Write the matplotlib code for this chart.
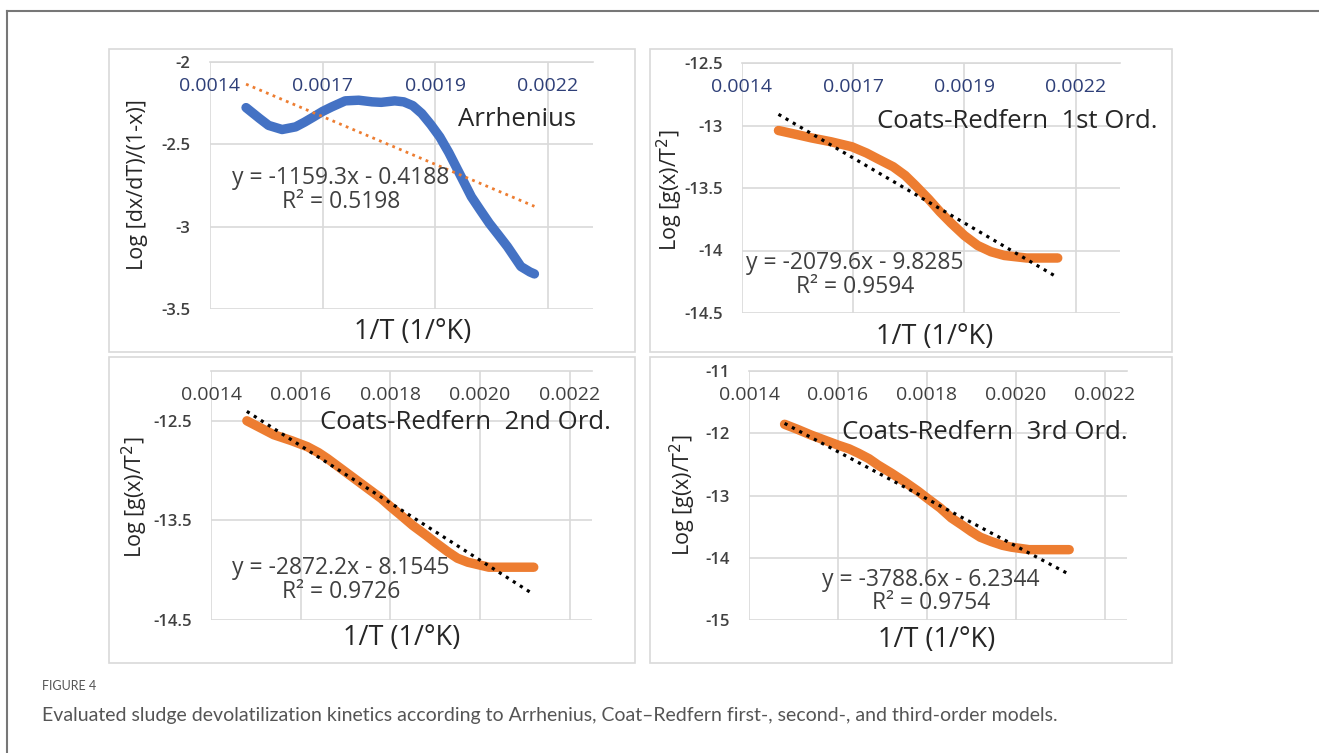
import numpy as np
import matplotlib.pyplot as plt
from matplotlib.patches import Rectangle
from matplotlib.lines import Line2D

plt.rcParams['font.family'] = ['Open Sans', 'DejaVu Sans']

x_arr = [0.00148, 0.00151, 0.00153, 0.00156, 0.00159, 0.00161, 0.00163, 0.00165, 0.00167,
         0.00170, 0.00173, 0.00176, 0.00178, 0.00181, 0.00183, 0.00185, 0.00187, 0.00189,
         0.00191, 0.00193, 0.00195, 0.00198, 0.00200, 0.00202, 0.00204, 0.00206, 0.00209,
         0.00211, 0.00212]
y_arr = [-2.277, -2.343, -2.385, -2.410, -2.394, -2.365, -2.333, -2.300, -2.273,
         -2.236, -2.232, -2.242, -2.245, -2.236, -2.242, -2.265, -2.313, -2.380,
         -2.455, -2.550, -2.657, -2.818, -2.900, -2.980, -3.050, -3.121, -3.242,
         -3.275, -3.287]

x_cr1 = [0.001482, 0.00152, 0.001557, 0.0016, 0.001647, 0.00168, 0.001707, 0.00174, 0.001767,
         0.00179, 0.00182, 0.001845, 0.00187, 0.0019, 0.00193, 0.00196, 0.00199, 0.00204,
         0.00211]
y_cr1 = [-13.04, -13.07, -13.10, -13.13, -13.17, -13.22, -13.27, -13.33, -13.40,
         -13.48, -13.59, -13.69, -13.78, -13.88, -13.96, -14.01, -14.04, -14.06,
         -14.06]

x_cr2 = [0.00148, 0.00151, 0.00154, 0.00158, 0.001615, 0.00164, 0.00166, 0.00169, 0.00172,
         0.00175, 0.00178, 0.0018, 0.001824, 0.00185, 0.00188, 0.0019, 0.00193, 0.00195,
         0.001973, 0.00202, 0.00212]
y_cr2 = [-12.50, -12.57, -12.64, -12.70, -12.76, -12.82, -12.88, -12.98, -13.08,
         -13.18, -13.28, -13.36, -13.45, -13.55, -13.65, -13.72, -13.82, -13.88,
         -13.92, -13.97, -13.97]

x_cr3 = [0.00148, 0.00151, 0.00154, 0.00157, 0.00160, 0.001625, 0.001646, 0.00167, 0.00169,
         0.00172, 0.00175, 0.00178, 0.00180, 0.00183, 0.001855, 0.00188, 0.00190, 0.00192,
         0.001945, 0.00197, 0.00199, 0.00203, 0.00212]
y_cr3 = [-11.856, -11.94, -12.03, -12.11, -12.19, -12.25, -12.32, -12.41, -12.51,
         -12.64, -12.78, -12.93, -13.04, -13.20, -13.36, -13.48, -13.58, -13.67,
         -13.74, -13.80, -13.83, -13.87, -13.87]

# trendline coefficients (slope, intercept, R2)
fits = [(-1159.3, -0.4188, 0.5198), (-2079.6, -9.8285, 0.9594),
        (-2872.2, -8.1545, 0.9726), (-3788.6, -6.2344, 0.9754)]

titles = ["Arrhenius", "Coats-Redfern  1st Ord.", "Coats-Redfern  2nd Ord.", "Coats-Redfern  3rd Ord."]
ylabels = ["Log [dx/dT)/(1-x)]", "Log [g(x)/T$^2$]", "Log [g(x)/T$^2$]", "Log [g(x)/T$^2$]"]

xt_top = [0.0014, 0.00165, 0.0019, 0.00215]
xt_top_lab = ["0.0014", "0.0017", "0.0019", "0.0022"]
xt_bot = [0.0014, 0.0016, 0.0018, 0.0020, 0.0022]
xt_bot_lab = ["0.0014", "0.0016", "0.0018", "0.0020", "0.0022"]

yticks = [[-2, -2.5, -3, -3.5], [-12.5, -13, -13.5, -14, -14.5],
          [-12.5, -13.5, -14.5], [-11, -12, -13, -14, -15]]
ylims = [(-3.5, -2), (-14.5, -12.5), (-14.5, -12.0), (-15, -11)]

W, H = 1319, 753
fig = plt.figure(figsize=(W / 100, H / 100), dpi=100)


def fx(px):
    return px / W


def fy(py):
    return 1 - py / H


# outer frame (top and left edges only)
fig.add_artist(Line2D([fx(7), 1], [fy(11), fy(11)], color='#777777', lw=1.5))
fig.add_artist(Line2D([fx(7), fx(7)], [fy(11), 0], color='#777777', lw=1.5))

# panel boxes
boxes = [(109, 49, 635, 352), (650, 49, 1172, 352), (109, 357, 635, 663), (650, 357, 1172, 663)]
for l, t, r, b in boxes:
    fig.add_artist(Rectangle((fx(l), fy(b)), fx(r) - fx(l), fy(t) - fy(b),
                             fill=False, edgecolor='#d9d9d9', lw=1.2))

plots = [(210, 62, 593, 309), (742, 63, 1120, 313), (211, 371, 592, 620), (749, 371, 1127, 620)]
xs = [x_arr, x_cr1, x_cr2, x_cr3]
ys = [y_arr, y_cr1, y_cr2, y_cr3]
colors = ['#4472C4', '#ED7D31', '#ED7D31', '#ED7D31']
trend_col = ['#ED7D31', 'black', 'black', 'black']

# text positions in pixels: title (left x, y), equation centre, ylabel x, xlabel centre
title_pos = [(458, 119), (877, 122), (320, 423), (842, 432)]
eq_pos = [(341, 178, 202), (855, 263, 287), (341, 568, 592), (931, 580, 603)]
ylab_pos = [(137, 185), (670, 190), (135, 497), (683, 495)]
xlab_pos = [(413, 332), (935, 337), (402, 638), (937, 640)]

for i in range(4):
    l, t, r, b = plots[i]
    ax = fig.add_axes([fx(l), fy(b), fx(r) - fx(l), fy(t) - fy(b)])
    x = np.array(xs[i])
    ax.plot(x, ys[i], color=colors[i], lw=6.8, solid_capstyle='round',
            solid_joinstyle='round', zorder=3)
    m, c, r2 = fits[i]
    xl = np.array([x[0], x[-1]])
    ax.plot(xl, m * xl + c, color=trend_col[i], lw=2 if i == 0 else 2.3,
            linestyle=(0, (1, 1.6)), zorder=4)

    ax.set_xlim(0.0014, 0.00225)
    ax.set_ylim(*ylims[i])
    if i < 2:
        ax.set_xticks(xt_top, xt_top_lab)
        xcol = '#2E3F78'
    else:
        ax.set_xticks(xt_bot, xt_bot_lab)
        xcol = '#404040'
    ax.set_yticks(yticks[i], [f"{v:g}" for v in yticks[i]])
    ax.tick_params(axis='x', bottom=False, labelbottom=False, top=False, labeltop=True,
                   length=0, pad=-24, labelsize=14, labelcolor=xcol)
    ax.tick_params(axis='y', length=0, pad=14, labelsize=12, labelcolor='#404040')
    for lab in ax.get_yticklabels():
        lab.set_fontweight('semibold')
    ax.grid(True, color='#d9d9d9', lw=1.2)
    ax.set_axisbelow(True)
    for s in ['left', 'right', 'bottom']:
        ax.spines[s].set_visible(False)
    ax.spines['top'].set_color('#d9d9d9')
    ax.spines['top'].set_linewidth(1.2)

    tx, ty = title_pos[i]
    fig.text(fx(tx), fy(ty), titles[i], fontsize=18.5, color='#262626', va='center', ha='left')
    ex, ey1, ey2 = eq_pos[i]
    fig.text(fx(ex), fy(ey1), f"y = {m}x - {abs(c)}", fontsize=16.5, color='#404040',
             ha='center', va='center')
    fig.text(fx(ex), fy(ey2), f"R² = {r2}", fontsize=16.5, color='#404040',
             ha='center', va='center')
    lx, ly = ylab_pos[i]
    fig.text(fx(lx), fy(ly), ylabels[i], fontsize=15.5, color='#262626', rotation=90,
             ha='center', va='center')
    bx, by = xlab_pos[i]
    fig.text(fx(bx), fy(by), "1/T (1/°K)", fontsize=19.5, color='#262626',
             ha='center', va='center')

fig.text(fx(42), fy(686), "FIGURE 4", fontsize=9, color='#555555', va='center',
         family=['Lato', 'DejaVu Sans'])
fig.text(fx(42), fy(716), "Evaluated sludge devolatilization kinetics according to Arrhenius, "
         "Coat\u2013Redfern first-, second-, and third-order models.",
         fontsize=14, color='#555555', va='center', family=['Lato', 'DejaVu Sans'])

plt.savefig("out.png", dpi=100)
